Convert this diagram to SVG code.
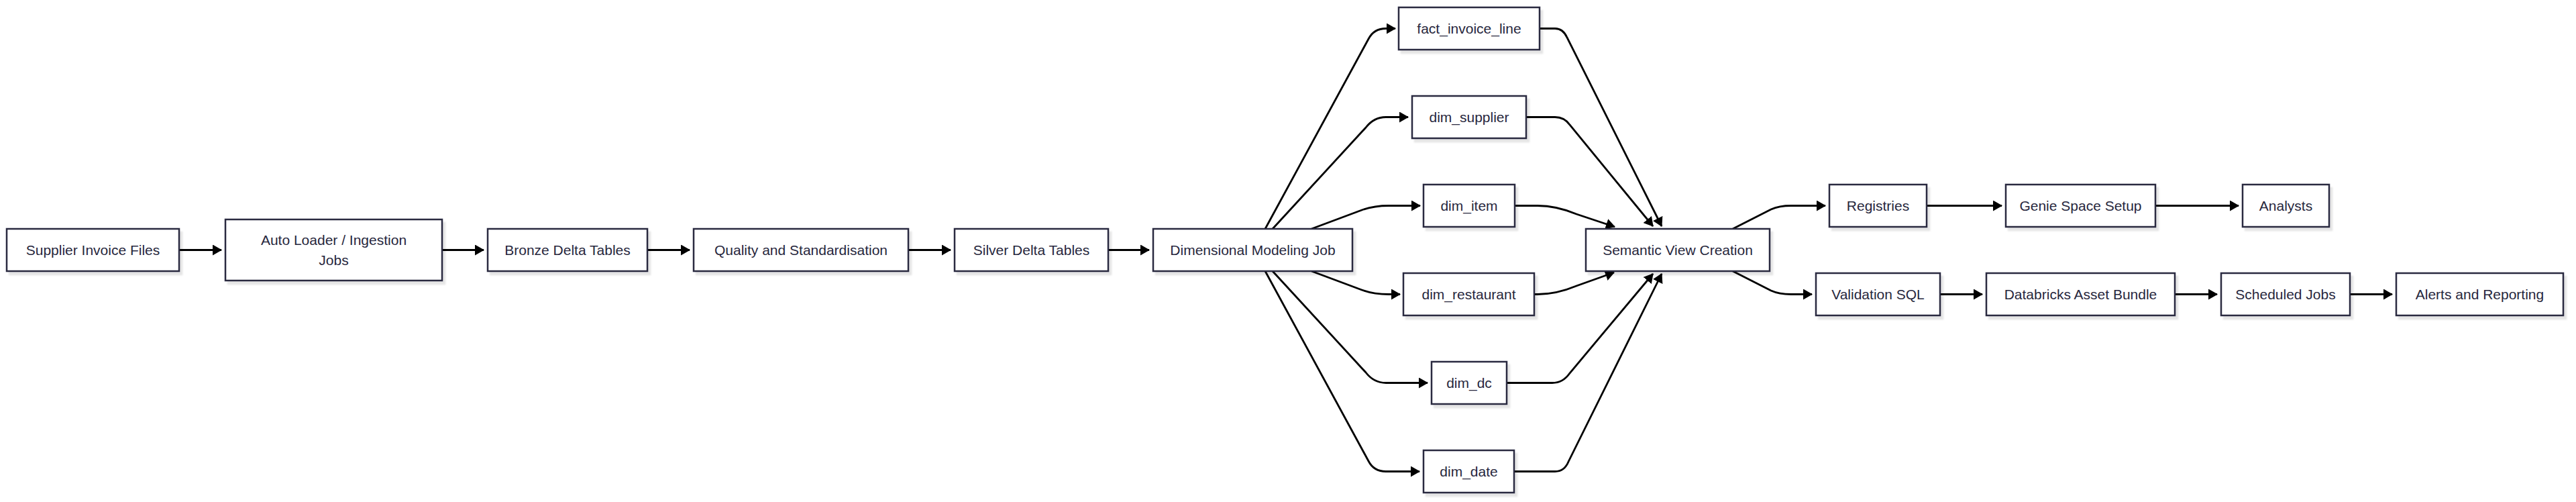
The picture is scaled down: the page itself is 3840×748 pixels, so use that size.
<svg xmlns="http://www.w3.org/2000/svg" width="3840" height="748" viewBox="0 0 3840 748">
<style>
.box{fill:#ffffff;stroke:#2a2a40;stroke-width:2.5;filter:url(#sh)}
.lbl{font-family:"Liberation Sans",Arial,sans-serif;font-size:21px;fill:#27273d;text-anchor:middle;dominant-baseline:central}
.edge{fill:none;stroke:#000;stroke-width:2.8;marker-end:url(#ah)}
</style>
<defs>
<filter id="sh" x="-10%" y="-20%" width="130%" height="150%"><feDropShadow dx="4" dy="5" stdDeviation="1" flood-color="#000" flood-opacity="0.1"/></filter>
<marker id="ah" viewBox="0 0 14 16" refX="13" refY="8" markerWidth="14" markerHeight="16" markerUnits="userSpaceOnUse" orient="auto"><path d="M0,0 L14,8 L0,16 z" fill="#000"/></marker>
</defs>
<rect width="3840" height="748" fill="#ffffff"/>
<g id="connectors">
<path class="edge" d="M267,372.5 L330,372.5"/>
<path class="edge" d="M659,372.5 L721,372.5"/>
<path class="edge" d="M965,372.5 L1028,372.5"/>
<path class="edge" d="M1354,372.5 L1417,372.5"/>
<path class="edge" d="M1652,372.5 L1713,372.5"/>
<path class="edge" d="M1886,341 L2040,58 Q2048,42.5 2066,42.5 L2080,42.5"/>
<path class="edge" d="M1897,341 L2036,190 Q2048,174.5 2066,174.5 L2099,174.5"/>
<path class="edge" d="M1955,341 L2030,313 Q2048,306.5 2070,306.5 L2117,306.5"/>
<path class="edge" d="M1955,404 L2030,432 Q2048,438.5 2070,438.5 L2087,438.5"/>
<path class="edge" d="M1897,404 L2036,555 Q2048,570.5 2066,570.5 L2128,570.5"/>
<path class="edge" d="M1886,404 L2040,687 Q2048,702.5 2066,702.5 L2116,702.5"/>
<path class="edge" d="M2295,42.5 L2318,42.5 Q2330,42.5 2336,56 L2477,337"/>
<path class="edge" d="M2275,174.5 L2318,174.5 Q2332,174.5 2340,186 L2464,337"/>
<path class="edge" d="M2258,306.5 L2292,306.5 Q2320,306.5 2350,319 L2407,338"/>
<path class="edge" d="M2287,438.5 L2292,438.5 Q2320,438.5 2350,426 L2406,406"/>
<path class="edge" d="M2246,570.5 L2314,570.5 Q2330,570.5 2340,556 L2464,408"/>
<path class="edge" d="M2257,702.5 L2318,702.5 Q2332,702.5 2338,688 L2477,408"/>
<path class="edge" d="M2583,341 L2640,312 Q2652,306.5 2670,306.5 L2721,306.5"/>
<path class="edge" d="M2583,404 L2640,433 Q2652,438.5 2670,438.5 L2701,438.5"/>
<path class="edge" d="M2872,306.5 L2984,306.5"/>
<path class="edge" d="M3213,306.5 L3337,306.5"/>
<path class="edge" d="M2892,438.5 L2955,438.5"/>
<path class="edge" d="M3242,438.5 L3305,438.5"/>
<path class="edge" d="M3503,438.5 L3566,438.5"/>
</g>
<g id="supplier-invoice-files"><rect class="box" x="10" y="341" width="257" height="63"/><text class="lbl" x="138.5" y="372.5">Supplier Invoice Files</text></g>
<g id="auto-loader"><rect class="box" x="336" y="327" width="323" height="91"/><text class="lbl" x="497.5" y="357.5">Auto Loader / Ingestion</text><text class="lbl" x="497.5" y="387.5">Jobs</text></g>
<g id="bronze-delta-tables"><rect class="box" x="727" y="341" width="238" height="63"/><text class="lbl" x="846" y="372.5">Bronze Delta Tables</text></g>
<g id="quality-standardisation"><rect class="box" x="1034" y="341" width="320" height="63"/><text class="lbl" x="1194" y="372.5">Quality and Standardisation</text></g>
<g id="silver-delta-tables"><rect class="box" x="1423" y="341" width="229" height="63"/><text class="lbl" x="1537.5" y="372.5">Silver Delta Tables</text></g>
<g id="dimensional-modeling-job"><rect class="box" x="1719" y="341" width="297" height="63"/><text class="lbl" x="1867.5" y="372.5">Dimensional Modeling Job</text></g>
<g id="fact-invoice-line"><rect class="box" x="2085" y="11" width="210" height="63"/><text class="lbl" x="2190" y="42.5">fact_invoice_line</text></g>
<g id="dim-supplier"><rect class="box" x="2105" y="143" width="170" height="63"/><text class="lbl" x="2190" y="174.5">dim_supplier</text></g>
<g id="dim-item"><rect class="box" x="2122" y="275" width="136" height="63"/><text class="lbl" x="2190" y="306.5">dim_item</text></g>
<g id="dim-restaurant"><rect class="box" x="2092" y="407" width="195" height="63"/><text class="lbl" x="2189.5" y="438.5">dim_restaurant</text></g>
<g id="dim-dc"><rect class="box" x="2134" y="539" width="112" height="63"/><text class="lbl" x="2190" y="570.5">dim_dc</text></g>
<g id="dim-date"><rect class="box" x="2122" y="671" width="135" height="63"/><text class="lbl" x="2189.5" y="702.5">dim_date</text></g>
<g id="semantic-view-creation"><rect class="box" x="2364" y="341" width="274" height="63"/><text class="lbl" x="2501" y="372.5">Semantic View Creation</text></g>
<g id="registries"><rect class="box" x="2727" y="275" width="145" height="63"/><text class="lbl" x="2799.5" y="306.5">Registries</text></g>
<g id="genie-space-setup"><rect class="box" x="2990" y="275" width="223" height="63"/><text class="lbl" x="3101.5" y="306.5">Genie Space Setup</text></g>
<g id="analysts"><rect class="box" x="3343" y="275" width="129" height="63"/><text class="lbl" x="3407.5" y="306.5">Analysts</text></g>
<g id="validation-sql"><rect class="box" x="2707" y="407" width="185" height="63"/><text class="lbl" x="2799.5" y="438.5">Validation SQL</text></g>
<g id="databricks-asset-bundle"><rect class="box" x="2961" y="407" width="281" height="63"/><text class="lbl" x="3101.5" y="438.5">Databricks Asset Bundle</text></g>
<g id="scheduled-jobs"><rect class="box" x="3311" y="407" width="192" height="63"/><text class="lbl" x="3407" y="438.5">Scheduled Jobs</text></g>
<g id="alerts-and-reporting"><rect class="box" x="3572" y="407" width="249" height="63"/><text class="lbl" x="3696.5" y="438.5">Alerts and Reporting</text></g>
</svg>
